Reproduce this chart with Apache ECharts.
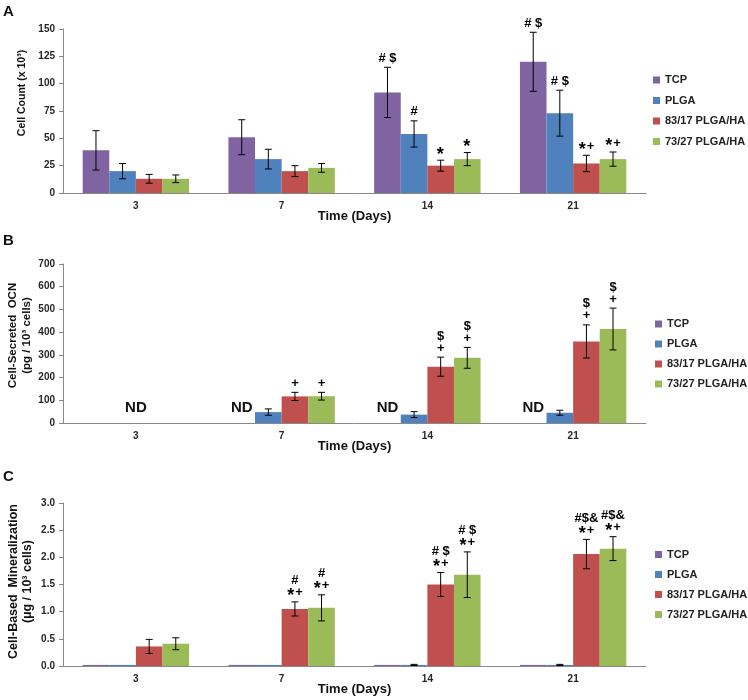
<!DOCTYPE html>
<html>
<head>
<meta charset="utf-8">
<title>Cell Count / OCN / Mineralization</title>
<script src="https://cdn.jsdelivr.net/npm/echarts@6/dist/echarts.min.js"></script>
<style>
body{margin:0;padding:0;background:#fff;}
#chart{width:748px;height:700px;}
</style>
</head>
<body>
<div id="chart"></div>
<script>
// data
var days = ['3', '7', '14', '21'];
var groups = ['TCP', 'PLGA', '83/17 PLGA/HA', '73/27 PLGA/HA'];
var colors = ['#8064A2', '#4F81BD', '#C0504D', '#9BBB59'];

// A: cell count (x 10^3)
var countMean = [[39, 51, 92, 120], [20, 31, 54, 73], [13, 20, 25, 27], [13, 23, 31, 31]];
var countErr = [[18, 16, 23, 27], [7, 9, 12, 21], [4, 5, 5, 7.5], [3.5, 4, 6, 6.5]];
var countMarks = [['', '', '# $', '# $'], ['', '', '#', '# $'], ['', '', '*', '*+'], ['', '', '*', '*+']];

// B: secreted OCN (pg / 10^3 cells), '-' = not detected
var ocnMean = [['-', '-', '-', '-'], ['-', 48, 37, 45], ['-', 117, 248, 359], ['-', 118, 287, 414]];
var ocnErr = [[0, 0, 0, 0], [0, 14, 13, 11], [0, 18, 42, 73], [0, 17, 46, 92]];
var ocnMarks = [['', '', '', ''], ['', '', '', ''], ['', '+', '$\n+', '$\n+'], ['', '+', '$\n+', '$\n+']];
var ocnND = ['ND', 'ND', 'ND', 'ND'];

// C: mineralization (ug / 10^3 cells)
var minMean = [[0.02, 0.02, 0.02, 0.02], [0.02, 0.02, 0.02, 0.02], [0.36, 1.05, 1.5, 2.06], [0.41, 1.07, 1.68, 2.16]];
var minErr = [[0, 0, 0, 0], [0, 0, 0.01, 0.01], [0.13, 0.13, 0.22, 0.27], [0.11, 0.24, 0.42, 0.22]];
var minMarks = [['', '', '', ''], ['', '', '', ''], ['', '#\n*+', '# $\n*+', '#$&\n*+'], ['', '#\n*+', '# $\n*+', '#$&\n*+']];

var font = 'Liberation Sans, Arial, sans-serif';
var gapPct = 0.27;

var myChart = echarts.init(document.getElementById('chart'));

function barW(api) {
  return api.size([1, 0])[0] * (1 - gapPct) / 4;
}

// error bars + significance marks drawn on top of each bar
function errorSeries(p, i, mean, err, marks) {
  return {
    type: 'custom',
    xAxisIndex: p, yAxisIndex: p,
    z: 5,
    silent: true,
    data: days.map(function (d, j) { return [j, mean[i][j] === '-' ? 0 : mean[i][j], err[i][j]]; }),
    encode: {x: 0, y: 1},
    renderItem: function (params, api) {
      var j = params.dataIndex;
      if (mean[i][j] === '-') return null;
      var m = api.value(1), e = api.value(2);
      var w = barW(api);
      var c = api.coord([j, m]);
      var x = c[0] + (i - 1.5) * w;
      var yHi = api.coord([j, m + e])[1];
      var yLo = api.coord([j, m - e])[1];
      var kids = [];
      var ls = {stroke: '#000', lineWidth: 1};
      if (e > 0) {
        kids.push({type: 'line', shape: {x1: x, y1: yHi, x2: x, y2: yLo}, style: ls});
        kids.push({type: 'line', shape: {x1: x - 3.5, y1: yHi, x2: x + 3.5, y2: yHi}, style: ls});
        kids.push({type: 'line', shape: {x1: x - 3.5, y1: yLo, x2: x + 3.5, y2: yLo}, style: ls});
      }
      if (marks[i][j]) {
        kids.push({type: 'text', style: {
          text: marks[i][j].replace(/\*/g, '{s|*}'), x: x, y: yHi - 3,
          align: 'center', verticalAlign: 'bottom',
          font: 'bold 13px ' + font, lineHeight: 12, fill: '#000',
          rich: {s: {font: 'bold 18px ' + font, lineHeight: 12, padding: [7, 1, 0, 0], fill: '#000'}}
        }});
      }
      return {type: 'group', children: kids};
    }
  };
}

var series = [];
var panels = [
  {mean: countMean, err: countErr, marks: countMarks},
  {mean: ocnMean, err: ocnErr, marks: ocnMarks},
  {mean: minMean, err: minErr, marks: minMarks}
];
panels.forEach(function (pn, p) {
  groups.forEach(function (g, i) {
    series.push({
      name: g, type: 'bar',
      xAxisIndex: p, yAxisIndex: p,
      barCategoryGap: (gapPct * 100) + '%', barGap: '0%',
      itemStyle: {color: colors[i]},
      data: pn.mean[i]
    });
  });
  groups.forEach(function (g, i) {
    series.push(errorSeries(p, i, pn.mean, pn.err, pn.marks));
  });
});

// ND labels in panel B (day 3 centred, others in the TCP slot)
series.push({
  type: 'custom', xAxisIndex: 1, yAxisIndex: 1, silent: true, z: 5,
  data: days.map(function (d, j) { return [j, 0]; }),
  encode: {x: 0, y: 1},
  renderItem: function (params, api) {
    var j = params.dataIndex;
    var c = api.coord([j, 0]);
    var x = j === 0 ? c[0] : c[0] - 1.5 * barW(api);
    return {type: 'text', style: {
      text: ocnND[j], x: x, y: c[1] - 8, align: 'center', verticalAlign: 'bottom',
      font: 'bold 15px ' + font, fill: '#111'
    }};
  }
});

var grids = [
  {left: 63, right: 102, top: 29, height: 164, outerBoundsMode: 'none', containLabel: false},
  {left: 63, right: 102, top: 264, height: 159, outerBoundsMode: 'none', containLabel: false},
  {left: 63, right: 102, top: 503, height: 163, outerBoundsMode: 'none', containLabel: false}
];
var axisCol = '#898989';
var labelStyle = {color: '#262626', fontFamily: font, fontWeight: 'bold', fontSize: 10};

function xAx(p) {
  return {
    type: 'category', gridIndex: p, data: days,
    name: 'Time (Days)', nameLocation: 'middle', nameGap: 17, nameMoveOverlap: false,
    nameTextStyle: {color: '#111', fontFamily: font, fontWeight: 'bold', fontSize: 13},
    axisLine: {lineStyle: {color: axisCol}},
    axisTick: {length: 4, lineStyle: {color: axisCol}},
    axisLabel: Object.assign({margin: 8}, labelStyle)
  };
}
function yAx(p, max, step, name, gap, size, shift, fmt) {
  return {
    type: 'value', gridIndex: p, min: 0, max: max, interval: step,
    name: name, nameLocation: 'middle', nameGap: gap, nameRotate: 90, nameMoveOverlap: false,
    nameTextStyle: {color: '#111', fontFamily: font, fontWeight: 'bold', fontSize: size,
      lineHeight: 14, padding: [0, 0, 0, shift]},
    axisLine: {show: true, lineStyle: {color: axisCol}},
    axisTick: {show: true, length: 4, lineStyle: {color: axisCol}},
    splitLine: {show: false},
    axisLabel: Object.assign({margin: 8, formatter: fmt}, labelStyle)
  };
}

function legendAt(top, left, gap) {
  return {
    data: groups, orient: 'vertical', left: left, top: top, padding: 0,
    itemWidth: 7, itemHeight: 7, itemGap: gap, icon: 'rect',
    textStyle: {color: '#222', fontFamily: font, fontWeight: 'bold', fontSize: 11},
    selectedMode: false
  };
}

myChart.setOption({
  animation: false,
  textStyle: {fontFamily: font},
  grid: grids,
  xAxis: [xAx(0), xAx(1), xAx(2)],
  yAxis: [
    yAx(0, 150, 25, 'Cell Count (x 10\u00b3)', 34, 10.5, 36),
    yAx(1, 700, 100, 'Cell-Secreted  OCN\n(pg / 10\u00b3 cells)', 29, 11.5, 16),
    yAx(2, 3, 0.5, 'Cell-Based  Mineralization\n(\u00b5g / 10\u00b3 cells)', 28, 12.5, 6, function (v) { return v.toFixed(1); })
  ],
  legend: [legendAt(74.5, 653, 9.5), legendAt(318.5, 655, 9), legendAt(549, 655, 9)],
  graphic: [
    {type: 'text', left: 3, top: 4, style: {text: 'A', font: 'bold 15px ' + font, fill: '#111'}},
    {type: 'text', left: 3, top: 233, style: {text: 'B', font: 'bold 15px ' + font, fill: '#111'}},
    {type: 'text', left: 3, top: 469, style: {text: 'C', font: 'bold 15px ' + font, fill: '#111'}}
  ],
  series: series
});
</script>
</body>
</html>
